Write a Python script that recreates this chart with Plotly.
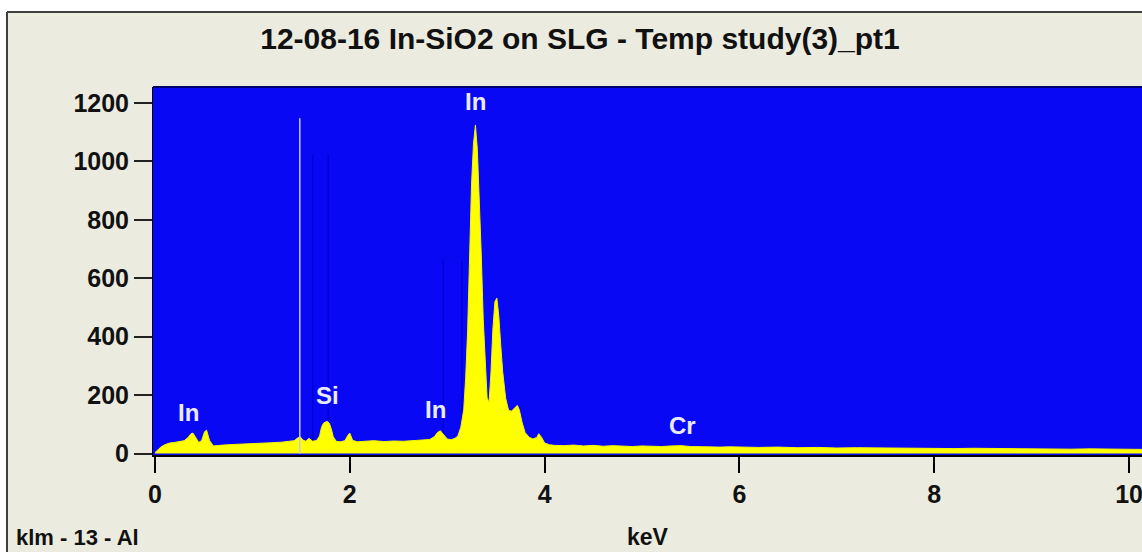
import plotly.graph_objects as go

# ---- data ----
energy_keV = [0.00, 0.03, 0.06, 0.10, 0.15, 0.20, 0.25, 0.30, 0.34, 0.37, 0.39, 0.42, 0.45, 0.48,
              0.51, 0.53, 0.56, 0.60, 0.65, 0.70, 0.80, 0.90, 1.00, 1.10, 1.20, 1.30, 1.38, 1.43,
              1.46, 1.49, 1.52, 1.55, 1.58, 1.62, 1.66, 1.69, 1.71, 1.73, 1.75, 1.77, 1.79, 1.81,
              1.83, 1.86, 1.90, 1.95, 1.98, 2.00, 2.03, 2.08, 2.15, 2.25, 2.35, 2.45, 2.55, 2.65,
              2.75, 2.82, 2.87, 2.90, 2.93, 2.96, 3.00, 3.04, 3.08, 3.11, 3.14, 3.17, 3.19, 3.21,
              3.23, 3.25, 3.27, 3.29, 3.31, 3.33, 3.35, 3.37, 3.39, 3.41, 3.43, 3.45, 3.47, 3.49,
              3.51, 3.53, 3.55, 3.57, 3.60, 3.63, 3.66, 3.69, 3.72, 3.74, 3.77, 3.80, 3.84, 3.88,
              3.92, 3.94, 3.97, 4.00, 4.05, 4.10, 4.20, 4.30, 4.40, 4.50, 4.60, 4.70, 4.80, 4.90,
              5.00, 5.10, 5.20, 5.30, 5.40, 5.50, 5.60, 5.70, 5.80, 5.90, 6.00, 6.20, 6.40, 6.60,
              6.80, 7.00, 7.20, 7.40, 7.60, 7.80, 8.00, 8.20, 8.40, 8.60, 8.80, 9.00, 9.20, 9.40,
              9.60, 9.80, 10.00, 10.20]
counts = [3, 12, 22, 30, 36, 38, 40, 44, 55, 68, 70, 55, 38, 45,
          75, 80, 45, 26, 28, 29, 31, 32, 34, 35, 37, 39, 41, 44,
          52, 58, 46, 42, 52, 42, 45, 60, 90, 104, 108, 110, 104, 85,
          58, 42, 40, 44, 62, 70, 45, 40, 42, 44, 41, 43, 42, 44,
          45, 48, 58, 72, 78, 66, 50, 47, 52, 60, 90, 150, 260, 420,
          680, 920, 1060, 1125, 1040, 880, 680, 460, 300, 190, 175, 280, 430, 520,
          532, 470, 370, 280, 190, 148, 145, 155, 165, 150, 105, 72, 56, 50,
          55, 68, 55, 36, 30, 28, 27, 29, 26, 28, 25, 27, 26, 24,
          26, 25, 24, 26, 27, 24, 23, 24, 22, 23, 22, 21, 22, 20,
          21, 19, 20, 19, 18, 19, 18, 17, 18, 17, 16, 17, 16, 15,
          16, 15, 15, 14]

peak_labels = ["In", "Si", "In", "In", "Cr"]
peak_label_keV = [0.34, 1.77, 2.88, 3.29, 5.42]
peak_label_counts = [140, 200, 150, 1205, 95]

marker_keV = [1.487]
marker_height = [1148]
faint_keV = [1.62, 1.78, 2.96, 3.15]
faint_height = [1023, 1023, 665, 658]

x_ticks = [0, 2, 4, 6, 8, 10]
y_ticks = [0, 200, 400, 600, 800, 1000, 1200]

title_text = "12-08-16 In-SiO2 on SLG - Temp study(3)_pt1"
corner_text = "klm - 13 - Al"
x_title = "keV"

FONT = "Liberation Sans, Arial, sans-serif"
BEIGE = "#ebebdf"
BLUE = "#0808f4"

fig = go.Figure()

# faint KLM marker lines (drawn below spectrum)
for e, h in zip(faint_keV, faint_height):
    fig.add_trace(go.Scatter(x=[e, e], y=[0, h], mode="lines",
                             line=dict(color="#0000d4", width=1.5),
                             hoverinfo="skip", showlegend=False))

fig.add_trace(go.Scatter(x=energy_keV, y=counts, mode="lines", fill="tozeroy",
                         fillcolor="#ffff00", line=dict(color="#f4f400", width=1),
                         showlegend=False))

for e, h in zip(marker_keV, marker_height):
    fig.add_trace(go.Scatter(x=[e, e], y=[0, h], mode="lines",
                             line=dict(color="#c4c8ff", width=1.5),
                             hoverinfo="skip", showlegend=False))

for name, e, c in zip(peak_labels, peak_label_keV, peak_label_counts):
    fig.add_annotation(x=e, y=c, xref="x", yref="y", text=name, showarrow=False,
                       font=dict(family=FONT, size=24, color="#e8ecff", weight="bold"))

# frame of the window
def px(xp):
    return (xp - 153) / 989.0

def py(yp):
    return (455 - yp) / 368.0

shapes = [
    dict(type="rect", xref="paper", yref="paper", x0=px(-5), x1=px(1150), y0=py(12), y1=py(-5),
         fillcolor="white", line=dict(width=0), layer="below"),
    dict(type="rect", xref="paper", yref="paper", x0=px(-5), x1=px(7), y0=py(560), y1=py(-5),
         fillcolor="white", line=dict(width=0), layer="below"),
    dict(type="line", xref="paper", yref="paper", x0=px(7), x1=px(1150), y0=py(12), y1=py(12),
         line=dict(color="#404040", width=2)),
    dict(type="line", xref="paper", yref="paper", x0=px(7), x1=px(7), y0=py(12), y1=py(560),
         line=dict(color="#404040", width=2)),
    dict(type="line", xref="paper", yref="paper", x0=0, x1=1, y0=1, y1=1,
         line=dict(color="#00006a", width=2)),
]

fig.add_annotation(x=px(14), y=py(537), xref="paper", yref="paper", text=corner_text,
                   showarrow=False, xanchor="left", yanchor="middle",
                   font=dict(family=FONT, size=22, color="#111111", weight="bold"))

fig.update_layout(
    width=1142, height=552,
    margin=dict(l=153, r=0, t=87, b=97),
    paper_bgcolor=BEIGE, plot_bgcolor=BLUE,
    shapes=shapes,
    title=dict(text=title_text, x=580 / 1142, xref="container", xanchor="center",
               y=1 - 38 / 552, yref="container", yanchor="middle",
               font=dict(family=FONT, size=30, color="#111111", weight="bold")),
    xaxis=dict(range=[-0.02, 10.133], tickvals=x_ticks, ticktext=[str(v) for v in x_ticks],
               showgrid=False, zeroline=False, showline=True, linecolor="#000000", linewidth=2,
               ticks="outside", ticklen=16, tickwidth=2, tickcolor="#000000",
               ticklabeloverflow="allow",
               tickfont=dict(family=FONT, size=25, color="#111111", weight="bold"),
               title=dict(text=x_title, standoff=22,
                          font=dict(family=FONT, size=23, color="#111111", weight="bold"))),
    yaxis=dict(range=[-5, 1255], tickvals=y_ticks, ticktext=[str(v) for v in y_ticks],
               showgrid=False, zeroline=False, showline=True, linecolor="#000000", linewidth=1,
               ticks="outside", ticklen=18, tickwidth=2, tickcolor="#222222",
               tickfont=dict(family=FONT, size=25, color="#111111", weight="bold")),
)

fig.write_html("out.html")
